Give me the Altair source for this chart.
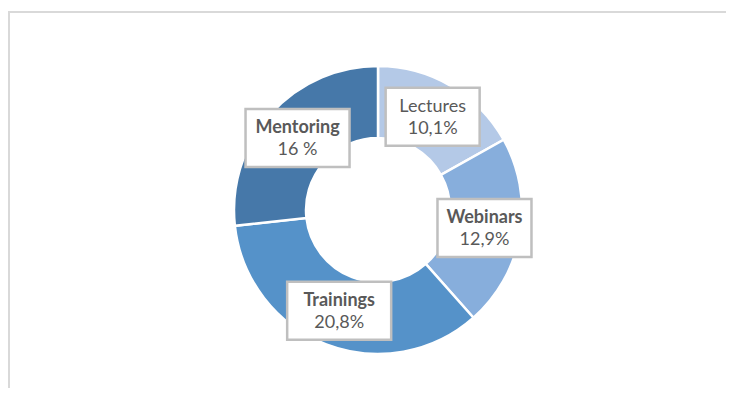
import altair as alt
import pandas as pd

# ---- data ----
categories = ["Lectures", "Webinars", "Trainings", "Mentoring"]
values = [10.1, 12.9, 20.8, 16.0]
pct_labels = ["10,1%", "12,9%", "20,8%", "16 %"]
colors = ["#b4c9e7", "#87aedc", "#5592c9", "#4678a9"]

df = pd.DataFrame({
    "name": categories,
    "value": values,
    "label": pct_labels,
    "order": list(range(len(categories))),
})

# ---- layout ----
W, H = 718, 380
CX, CY = 370, 202
R_OUT, R_IN, R_LAB = 144, 72, 108
TXT = "#595959"
FONT = "Lato"
FS = 18

xscale = alt.Scale(domain=[-CX, W - CX], nice=False, zero=False)
yscale = alt.Scale(domain=[-CY, H - CY], nice=False, zero=False, reverse=True)

donut = alt.Chart(df).mark_arc(
    innerRadius=R_IN, outerRadius=R_OUT, stroke="white", strokeWidth=2.5
).encode(
    theta=alt.Theta("value:Q", stack=True),
    order=alt.Order("order:Q"),
    color=alt.Color("name:N", scale=alt.Scale(domain=categories, range=colors), legend=None),
    x=alt.value(CX),
    y=alt.value(CY),
)

base = (
    alt.Chart(df)
    .transform_window(cum="sum(value)", sort=[alt.SortField("order")], frame=[None, 0])
    .transform_joinaggregate(total="sum(value)")
    .transform_calculate(a="2*PI*(datum.cum - datum.value/2)/datum.total")
    .transform_calculate(
        cx=f"sin(datum.a)*{R_LAB}",
        cy=f"-cos(datum.a)*{R_LAB}",
        bw="length(datum.name)*10+14",
    )
    .transform_calculate(
        x1="datum.cx - datum.bw/2",
        x2="datum.cx + datum.bw/2",
        y1="datum.cy - 29",
        y2="datum.cy + 29",
    )
)

boxes = base.mark_rect(fill="white", stroke="#bfbfbf", strokeWidth=2.5).encode(
    x=alt.X("x1:Q", scale=xscale, axis=None),
    x2="x2:Q",
    y=alt.Y("y1:Q", scale=yscale, axis=None),
    y2="y2:Q",
)

pos = dict(
    x=alt.X("cx:Q", scale=xscale, axis=None),
    y=alt.Y("cy:Q", scale=yscale, axis=None),
)

names_bold = base.transform_filter("datum.name != 'Lectures'").mark_text(
    font=FONT, fontSize=FS, fontWeight="bold", color=TXT, dy=-10
).encode(text="name:N", **pos)

names_plain = base.transform_filter("datum.name == 'Lectures'").mark_text(
    font=FONT, fontSize=FS, color=TXT, dy=-10
).encode(text="name:N", **pos)

pcts = base.mark_text(font=FONT, fontSize=FS, color=TXT, dy=12).encode(
    text="label:N", **pos
)

one = pd.DataFrame({"k": [0]})
top_border = alt.Chart(one).mark_rule(color="#d9d9d9", strokeWidth=2).encode(
    x=alt.value(0), x2=alt.value(W), y=alt.value(4)
)
left_border = alt.Chart(one).mark_rule(color="#d9d9d9", strokeWidth=2).encode(
    x=alt.value(1), y=alt.value(3), y2=alt.value(H)
)

chart = alt.layer(
    top_border, left_border, donut, boxes, names_bold, names_plain, pcts
).properties(
    width=W, height=H, padding=0, autosize="none", background="white"
).configure_view(stroke=None)

chart.save("out.html", embed_options={"renderer": "svg", "actions": False})
